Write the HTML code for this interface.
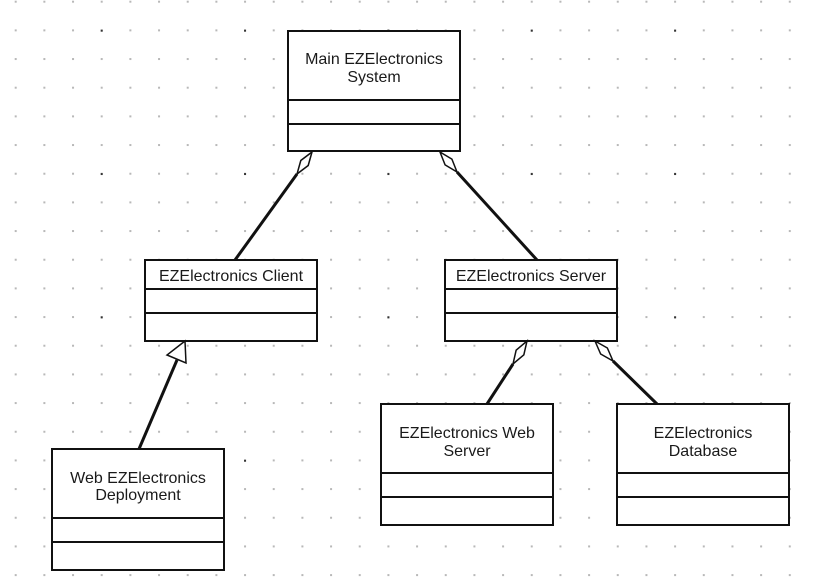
<!DOCTYPE html>
<html><head><meta charset="utf-8"><style>
html,body{margin:0;padding:0;background:#fff;width:814px;height:586px;overflow:hidden}
svg{display:block}
text{font-family:"Liberation Sans",sans-serif;font-size:16px;fill:#1a1a1a}
</style></head><body>
<svg width="814" height="586" viewBox="0 0 814 586" xmlns="http://www.w3.org/2000/svg">
<defs>
<pattern id="g" x="14.7" y="0.7" width="28.67" height="28.67" patternUnits="userSpaceOnUse">
<rect x="0" y="0" width="2" height="2" fill="#b8b8b8"/>
</pattern>
<pattern id="g2" x="100.7" y="29.7" width="143.35" height="143.35" patternUnits="userSpaceOnUse">
<rect x="0" y="0" width="2" height="2" fill="#333"/>
</pattern>
</defs>
<rect width="814" height="586" fill="url(#g)"/>
<rect width="814" height="586" fill="url(#g2)"/>
<g fill="#fff" stroke="#111" stroke-width="2">
<rect x="288" y="31" width="172" height="120"/>
<line x1="288" y1="100" x2="460" y2="100"/><line x1="288" y1="124" x2="460" y2="124"/>
<rect x="145" y="260" width="172" height="81"/>
<line x1="145" y1="289" x2="317" y2="289"/><line x1="145" y1="313" x2="317" y2="313"/>
<rect x="445" y="260" width="172" height="81"/>
<line x1="445" y1="289" x2="617" y2="289"/><line x1="445" y1="313" x2="617" y2="313"/>
<rect x="381" y="404" width="172" height="121"/>
<line x1="381" y1="473" x2="553" y2="473"/><line x1="381" y1="497" x2="553" y2="497"/>
<rect x="617" y="404" width="172" height="121"/>
<line x1="617" y1="473" x2="789" y2="473"/><line x1="617" y1="497" x2="789" y2="497"/>
<rect x="52" y="449" width="172" height="121"/>
<line x1="52" y1="518" x2="224" y2="518"/><line x1="52" y1="542" x2="224" y2="542"/>
</g>
<g stroke="#111" stroke-width="3" fill="none">
<line x1="297" y1="174" x2="235" y2="260"/>
<line x1="457" y1="172" x2="537" y2="260"/>
<line x1="513" y1="364" x2="487" y2="404"/>
<line x1="613" y1="361" x2="657" y2="404"/>
<line x1="177" y1="360" x2="139" y2="449"/>
</g>
<g stroke="#111" stroke-width="1.5" fill="#fff">
<polygon points="312,152 308.2,165.5 297,174 300.8,160.5"/>
<polygon points="440,152 451.9,159.1 457,172 445.1,164.9"/>
<polygon points="527,341 523.85,354.84 513,364 516.15,350.16"/>
<polygon points="595,341 607.35,348 613,361 600.65,354"/>
<polygon points="185,341 167,355 186,363"/>
</g>
<g text-anchor="middle">
<text x="374" y="64">Main EZElectronics</text>
<text x="374" y="82">System</text>
<text x="231" y="281">EZElectronics Client</text>
<text x="531" y="281">EZElectronics Server</text>
<text x="467" y="438">EZElectronics Web</text>
<text x="467" y="456">Server</text>
<text x="703" y="438">EZElectronics</text>
<text x="703" y="456">Database</text>
<text x="138" y="483">Web EZElectronics</text>
<text x="138" y="500">Deployment</text>
</g>
</svg>
</body></html>
